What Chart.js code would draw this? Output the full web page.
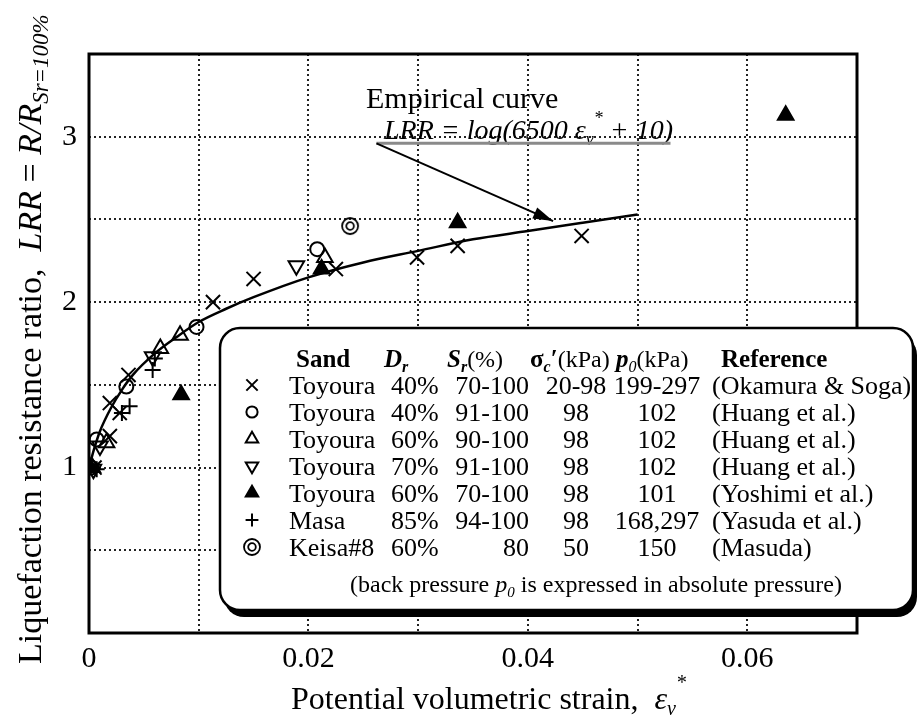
<!DOCTYPE html>
<html>
<head>
<meta charset="utf-8">
<script src="https://cdn.jsdelivr.net/npm/chart.js@4.4.1/dist/chart.umd.min.js"></script>
<style>
html, body { margin: 0; padding: 0; background: #fff; }
</style>
</head>
<body>
<canvas id="myChart" width="919" height="719"></canvas>
<script>
// empirical curve LRR = log(6500 ev* + 10)
const curveX = [0, 0.0005, 0.001, 0.002, 0.003, 0.004, 0.006, 0.008, 0.010, 0.0125, 0.015, 0.020, 0.025, 0.030, 0.035, 0.040, 0.045, 0.050];
const curveY = [1.00, 1.12, 1.22, 1.36, 1.47, 1.56, 1.69, 1.79, 1.88, 1.96, 2.03, 2.15, 2.24, 2.31, 2.38, 2.43, 2.48, 2.53];

// test data (x = potential volumetric strain, y = LRR)
const okamuraX = [0.0005, 0.0019, 0.0019, 0.0028, 0.0036, 0.0113, 0.0150, 0.0225, 0.0299, 0.0336, 0.0449];
const okamuraY = [1.00, 1.19, 1.39, 1.33, 1.56, 2.00, 2.14, 2.20, 2.27, 2.34, 2.40];
const huang40X = [0.0002, 0.0007, 0.0034, 0.0098, 0.0208];
const huang40Y = [1.00, 1.17, 1.49, 1.85, 2.32];
const huang60X = [0.0003, 0.0016, 0.0065, 0.0083, 0.0215];
const huang60Y = [1.00, 1.15, 1.72, 1.80, 2.27];
const huang70X = [0.0004, 0.0010, 0.0058, 0.0189];
const huang70Y = [0.99, 1.13, 1.67, 2.22];
const yoshimiX = [0.0001, 0.0084, 0.0212, 0.0336, 0.0635];
const yoshimiY = [1.00, 1.44, 2.20, 2.48, 3.13];
const yasudaX = [0.0007, 0.0030, 0.0037, 0.0058, 0.0060];
const yasudaY = [0.99, 1.33, 1.37, 1.59, 1.66];
const masudaX = [0.0238];
const masudaY = [2.46];

// legend table
const legendSand = ['Toyoura', 'Toyoura', 'Toyoura', 'Toyoura', 'Toyoura', 'Masa', 'Keisa#8'];
const legendDr = ['40%', '40%', '60%', '70%', '60%', '85%', '60%'];
const legendSr = ['70-100', '91-100', '90-100', '91-100', '70-100', '94-100', '80'];
const legendSigma = ['20-98', '98', '98', '98', '98', '98', '50'];
const legendP0 = ['199-297', '102', '102', '102', '101', '168,297', '150'];
const legendRef = ['(Okamura & Soga)', '(Huang et al.)', '(Huang et al.)', '(Huang et al.)', '(Yoshimi et al.)', '(Yasuda et al.)', '(Masuda)'];

const xLabels = [0, 0.02, 0.04, 0.06];
const yLabels = [1, 2, 3];

const SERIF = '"Liberation Serif", "DejaVu Serif", serif';

function pts(xs, ys) {
    return xs.map((x, i) => ({ x: x, y: ys[i] }));
}

// double circle marker
const dbl = document.createElement('canvas');
dbl.width = 20; dbl.height = 20;
(function () {
    const c = dbl.getContext('2d');
    c.strokeStyle = '#000';
    c.lineWidth = 1.8;
    c.beginPath(); c.arc(10, 10, 8, 0, Math.PI * 2); c.stroke();
    c.beginPath(); c.arc(10, 10, 3.8, 0, Math.PI * 2); c.stroke();
})();

const markers = [
    { pointStyle: 'crossRot', radius: 10, rotation: 0, fill: false },
    { pointStyle: 'circle', radius: 7, rotation: 0, fill: false },
    { pointStyle: 'triangle', radius: 9, rotation: 0, fill: false },
    { pointStyle: 'triangle', radius: 9, rotation: 180, fill: false },
    { pointStyle: 'triangle', radius: 9, rotation: 0, fill: true },
    { pointStyle: 'cross', radius: 8, rotation: 0, fill: false },
    { pointStyle: dbl, radius: 9, rotation: 0, fill: false }
];

const series = [
    pts(okamuraX, okamuraY), pts(huang40X, huang40Y), pts(huang60X, huang60Y),
    pts(huang70X, huang70Y), pts(yoshimiX, yoshimiY), pts(yasudaX, yasudaY), pts(masudaX, masudaY)
];

const datasets = [{
    label: 'Empirical curve',
    data: pts(curveX, curveY),
    showLine: true,
    borderColor: '#000',
    borderWidth: 2.5,
    pointRadius: 0,
    cubicInterpolationMode: 'monotone'
}];
series.forEach((d, i) => {
    const m = markers[i];
    datasets.push({
        label: legendRef[i],
        data: d,
        pointStyle: m.pointStyle,
        pointRadius: m.radius,
        pointRotation: m.rotation,
        pointBorderWidth: 2,
        borderColor: '#000',
        backgroundColor: m.fill ? '#000' : 'rgba(0,0,0,0)',
        showLine: false
    });
});

function drawParts(ctx, parts, x, y) {
    parts.forEach(p => {
        ctx.font = p.font;
        ctx.fillText(p.t, x, y + (p.dy || 0));
        x += ctx.measureText(p.t).width;
    });
    return x;
}
function partsWidth(ctx, parts) {
    let w = 0;
    parts.forEach(p => { ctx.font = p.font; w += ctx.measureText(p.t).width; });
    return w;
}
function roundRect(ctx, x, y, w, h, r) {
    ctx.beginPath();
    ctx.moveTo(x + r, y);
    ctx.arcTo(x + w, y, x + w, y + h, r);
    ctx.arcTo(x + w, y + h, x, y + h, r);
    ctx.arcTo(x, y + h, x, y, r);
    ctx.arcTo(x, y, x + w, y, r);
    ctx.closePath();
}

const decorations = {
    id: 'decorations',
    afterDatasetsDraw(chart) {
        const ctx = chart.ctx;
        const a = chart.chartArea;
        const xs = chart.scales.x, ys = chart.scales.y;
        ctx.save();
        // frame
        ctx.strokeStyle = '#000';
        ctx.lineWidth = 3;
        ctx.strokeRect(a.left, a.top, a.right - a.left, a.bottom - a.top);

        // annotation
        ctx.fillStyle = '#000';
        ctx.textBaseline = 'alphabetic';
        ctx.textAlign = 'left';
        ctx.font = '30px ' + SERIF;
        ctx.fillText('Empirical curve', 366, 108);
        const it = 'italic 28px ' + SERIF;
        const itS = 'italic 18px ' + SERIF;
        drawParts(ctx, [
            { t: 'LRR = log(6500 ', font: it },
            { t: 'ε', font: it },
            { t: 'v', font: itS, dy: 6 },
            { t: '*', font: itS, dy: -15 },
            { t: ' + 10)', font: it }
        ], 384, 139);
        const ux0 = xs.getPixelForValue(0.0262), ux1 = xs.getPixelForValue(0.053);
        const uy = ys.getPixelForValue(2.96);
        ctx.strokeStyle = '#8a8a8a';
        ctx.lineWidth = 3;
        ctx.beginPath(); ctx.moveTo(ux0, uy); ctx.lineTo(ux1, uy); ctx.stroke();
        // arrow
        const tx = xs.getPixelForValue(0.0423), ty = ys.getPixelForValue(2.49);
        ctx.strokeStyle = '#000';
        ctx.lineWidth = 2;
        ctx.beginPath(); ctx.moveTo(ux0, uy); ctx.lineTo(tx, ty); ctx.stroke();
        const ang = Math.atan2(ty - uy, tx - ux0);
        ctx.beginPath();
        ctx.moveTo(tx, ty);
        ctx.lineTo(tx - 20 * Math.cos(ang) + 6 * Math.sin(ang), ty - 20 * Math.sin(ang) - 6 * Math.cos(ang));
        ctx.lineTo(tx - 20 * Math.cos(ang) - 6 * Math.sin(ang), ty - 20 * Math.sin(ang) + 6 * Math.cos(ang));
        ctx.closePath();
        ctx.fill();

        // legend box
        const bx = 220, by = 328, bw = 693, bh = 282;
        ctx.fillStyle = '#000';
        roundRect(ctx, bx + 4, by + 7, bw, bh, 20);
        ctx.fill();
        ctx.fillStyle = '#fff';
        roundRect(ctx, bx, by, bw, bh, 20);
        ctx.fill();
        ctx.lineWidth = 2.5;
        ctx.strokeStyle = '#000';
        ctx.stroke();

        ctx.fillStyle = '#000';
        const F = '26px ' + SERIF;
        const HF = '24px ' + SERIF;
        const B = 'bold 25px ' + SERIF;
        const BI = 'italic bold 25px ' + SERIF;
        const subB = 'italic bold 16px ' + SERIF;
        const sub = 'italic 16px ' + SERIF;
        const hy = 367;
        drawParts(ctx, [{ t: 'Sand', font: B }], 296, hy);
        drawParts(ctx, [{ t: 'D', font: BI }, { t: 'r', font: subB, dy: 5 }], 384, hy);
        drawParts(ctx, [{ t: 'S', font: BI }, { t: 'r', font: subB, dy: 5 }, { t: '(%)', font: HF }], 447, hy);
        drawParts(ctx, [{ t: 'σ', font: B }, { t: 'c', font: subB, dy: 5 }, { t: '′', font: B }, { t: '(kPa)', font: HF }], 530, hy);
        drawParts(ctx, [{ t: 'p', font: BI }, { t: '0', font: sub, dy: 5 }, { t: '(kPa)', font: HF }], 616, hy);
        drawParts(ctx, [{ t: 'Reference', font: B }], 721, hy);

        legendSand.forEach((s, i) => {
            const cy = 385 + i * 27;
            const m = markers[i];
            ctx.fillStyle = m.fill ? '#000' : 'rgba(0,0,0,0)';
            ctx.strokeStyle = '#000';
            ctx.lineWidth = 2;
            Chart.helpers.drawPoint(ctx, {
                pointStyle: m.pointStyle,
                radius: m.radius * 0.8,
                rotation: m.rotation,
                borderWidth: 2
            }, 252, cy);
            const base = cy + 9;
            ctx.fillStyle = '#000';
            ctx.font = F;
            ctx.textAlign = 'left';
            ctx.fillText(s, 289, base);
            ctx.fillText(legendDr[i], 391, base);
            ctx.textAlign = 'right';
            ctx.fillText(legendSr[i], 529, base);
            ctx.textAlign = 'center';
            ctx.fillText(legendSigma[i], 576, base);
            ctx.fillText(legendP0[i], 657, base);
            ctx.textAlign = 'left';
            ctx.fillText(legendRef[i], 712, base);
        });
        const nF = '24px ' + SERIF, nI = 'italic 24px ' + SERIF, nS = 'italic 15px ' + SERIF;
        const note = [
            { t: '(back pressure ', font: nF },
            { t: 'p', font: nI },
            { t: '0', font: nS, dy: 5 },
            { t: ' is expressed in absolute pressure)', font: nF }
        ];
        drawParts(ctx, note, 596 - partsWidth(ctx, note) / 2, 592);
        ctx.restore();
    },
    afterDraw(chart) {
        const ctx = chart.ctx;
        ctx.save();
        ctx.fillStyle = '#000';
        ctx.textAlign = 'left';
        ctx.textBaseline = 'alphabetic';
        // x title
        const xF = '32px ' + SERIF, xI = 'italic 32px ' + SERIF, xS = 'italic 20px ' + SERIF;
        drawParts(ctx, [
            { t: 'Potential volumetric strain,  ', font: xF },
            { t: 'ε', font: xI },
            { t: 'v', font: xS, dy: 6 },
            { t: '*', font: xS, dy: -20 }
        ], 291, 709);
        // y title
        ctx.translate(41, 664);
        ctx.rotate(-Math.PI / 2);
        const yF = '34px ' + SERIF, yI = 'italic 34px ' + SERIF, yS = 'italic 23px ' + SERIF;
        drawParts(ctx, [
            { t: 'Liquefaction resistance ratio,  ', font: yF },
            { t: 'LRR', font: yI },
            { t: ' = ', font: yF },
            { t: 'R/R', font: yI },
            { t: 'Sr=100%', font: yS, dy: 7 }
        ], 0, 0);
        ctx.restore();
    }
};

var ctx = document.getElementById('myChart').getContext('2d');
var myChart = new Chart(ctx, {
    type: 'scatter',
    data: { datasets: datasets },
    options: {
        responsive: false,
        animation: false,
        layout: { padding: { left: 0, right: 62, top: 54, bottom: 0 } },
        plugins: {
            legend: { display: false },
            tooltip: { enabled: false }
        },
        scales: {
            x: {
                type: 'linear',
                min: 0,
                max: 0.07,
                afterFit: s => { s.height = 86; },
                ticks: {
                    stepSize: 0.01,
                    autoSkip: false,
                    maxRotation: 0,
                    padding: 8,
                    color: '#000',
                    font: { family: SERIF, size: 30 },
                    callback: v => {
                        const hit = xLabels.find(l => Math.abs(l - v) < 1e-9);
                        return hit === undefined ? '' : (hit === 0 ? '0' : hit.toFixed(2));
                    }
                },
                grid: { color: '#222', lineWidth: 2, drawTicks: false },
                border: { display: false, dash: [2, 3] }
            },
            y: {
                min: 0,
                max: 3.5,
                afterFit: s => { s.width = 89; },
                ticks: {
                    stepSize: 0.5,
                    padding: 12,
                    color: '#000',
                    font: { family: SERIF, size: 30 },
                    callback: v => yLabels.includes(v) ? String(v) : ''
                },
                grid: { color: '#222', lineWidth: 2, drawTicks: false },
                border: { display: false, dash: [2, 3] }
            }
        }
    },
    plugins: [decorations]
});
</script>
</body>
</html>
